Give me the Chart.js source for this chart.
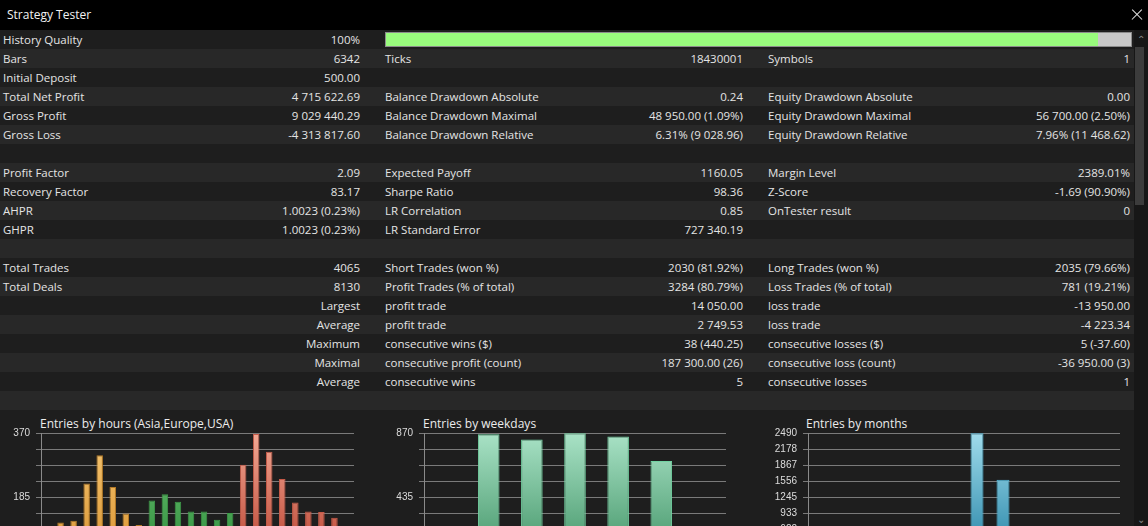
<!DOCTYPE html>
<html>
<head>
<meta charset="utf-8">
<title>Strategy Tester</title>
<script src="https://cdn.jsdelivr.net/npm/chart.js@4/dist/chart.umd.min.js"></script>
<style>
    html, body { margin: 0; padding: 0; }
    body {
        position: relative;
        width: 1148px;
        height: 526px;
        overflow: hidden;
        background: #1e1e1e;
        color: #e4e4e4;
        font-family: 'Open Sans', 'Noto Sans', sans-serif;
        font-size: 11.5px;
    }
    .titlebar {
        position: absolute; left: 0; top: 0; width: 1148px; height: 30px;
        background: #000; color: #f2f2f2; font-size: 12px; line-height: 30px;
    }
    .titlebar span { position: absolute; left: 7px; }
    .close { position: absolute; left: 1130px; top: 9px; width: 12px; height: 12px; }
    .close:before, .close:after {
        content: ''; position: absolute; left: 0; top: 5px; width: 14px; height: 1.4px;
        background: #e8e8e8;
    }
    .close:before { transform: rotate(45deg); }
    .close:after { transform: rotate(-45deg); }
    .row { position: absolute; left: 0; width: 1134px; height: 19px; line-height: 19px; white-space: nowrap; }
    .row.even { background: #1e1e1e; }
    .row.odd { background: #282828; }
    .row span { position: absolute; top: 0; }
    .l1 { left: 3px; }
    .r1 { left: 160px; width: 200px; text-align: right; }
    .l2 { left: 385px; }
    .v2 { left: 520px; width: 223px; text-align: right; }
    .l3 { left: 768px; }
    .v3 { left: 930px; width: 200px; text-align: right; }
    .quality {
        position: absolute; left: 385px; top: 32px; width: 745px; height: 13px;
        background: #c9c9c9; border: 1px solid #8c8c8c;
    }
    .quality div { width: 712px; height: 13px; background: #99fb7d; }
    .scroll { position: absolute; left: 1134px; top: 30px; width: 14px; height: 496px; background: #171717; }
    .thumb { position: absolute; left: 1135px; top: 47px; width: 9px; height: 158px; background: #3c3c3c; }
    .arrow { position: absolute; left: 1136px; width: 10px; color: #8a8a8a; font-size: 10px; line-height: 10px; text-align: center; }
    .chart-title { position: absolute; top: 416px; color: #ececec; font-size: 12px; line-height: 16px; }
    .box { position: absolute; top: 421px; height: 152px; }
</style>
</head>
<body>

<div class="titlebar"><span>Strategy Tester</span></div>
<div class="close"></div>
<div id="rows"></div>
<div class="scroll"></div>
<div class="thumb"></div>
<div class="arrow" style="top:34px">&#8963;</div>
<div class="arrow" style="top:514px">&#8964;</div>

<div class="chart-title" style="left:40px">Entries by hours (Asia,Europe,USA)</div>
<div class="chart-title" style="left:423px">Entries by weekdays</div>
<div class="chart-title" style="left:806px">Entries by months</div>

<div class="box" style="left:0; width:360px"><canvas id="hoursChart"></canvas></div>
<div class="box" style="left:380px; width:352px"><canvas id="weekdaysChart"></canvas></div>
<div class="box" style="left:760px; width:366px"><canvas id="monthsChart"></canvas></div>

<script>
// Report rows: [label, value, label, value, label, value]
const reportRows = [
    ['History Quality', '100%', '', '', '', ''],
    ['Bars', '6342', 'Ticks', '18430001', 'Symbols', '1'],
    ['Initial Deposit', '500.00', '', '', '', ''],
    ['Total Net Profit', '4 715 622.69', 'Balance Drawdown Absolute', '0.24', 'Equity Drawdown Absolute', '0.00'],
    ['Gross Profit', '9 029 440.29', 'Balance Drawdown Maximal', '48 950.00 (1.09%)', 'Equity Drawdown Maximal', '56 700.00 (2.50%)'],
    ['Gross Loss', '-4 313 817.60', 'Balance Drawdown Relative', '6.31% (9 028.96)', 'Equity Drawdown Relative', '7.96% (11 468.62)'],
    ['', '', '', '', '', ''],
    ['Profit Factor', '2.09', 'Expected Payoff', '1160.05', 'Margin Level', '2389.01%'],
    ['Recovery Factor', '83.17', 'Sharpe Ratio', '98.36', 'Z-Score', '-1.69 (90.90%)'],
    ['AHPR', '1.0023 (0.23%)', 'LR Correlation', '0.85', 'OnTester result', '0'],
    ['GHPR', '1.0023 (0.23%)', 'LR Standard Error', '727 340.19', '', ''],
    ['', '', '', '', '', ''],
    ['Total Trades', '4065', 'Short Trades (won %)', '2030 (81.92%)', 'Long Trades (won %)', '2035 (79.66%)'],
    ['Total Deals', '8130', 'Profit Trades (% of total)', '3284 (80.79%)', 'Loss Trades (% of total)', '781 (19.21%)'],
    ['', 'Largest', 'profit trade', '14 050.00', 'loss trade', '-13 950.00'],
    ['', 'Average', 'profit trade', '2 749.53', 'loss trade', '-4 223.34'],
    ['', 'Maximum', 'consecutive wins ($)', '38 (440.25)', 'consecutive losses ($)', '5 (-37.60)'],
    ['', 'Maximal', 'consecutive profit (count)', '187 300.00 (26)', 'consecutive loss (count)', '-36 950.00 (3)'],
    ['', 'Average', 'consecutive wins', '5', 'consecutive losses', '1'],
    ['', '', '', '', '', '']
];

// Entries by hours
const hourLabels = ['0', '1', '2', '3', '4', '5', '6', '7', '8', '9', '10', '11',
                    '12', '13', '14', '15', '16', '17', '18', '19', '20', '21', '22', '23'];
const hourEntries = [0, 111, 116, 224, 306, 214, 137, 104, 175, 193, 171, 143,
                     143, 119, 139, 278, 367, 316, 237, 169, 143, 142, 125, 0];
const hourSessions = ['asia', 'asia', 'asia', 'asia', 'asia', 'asia', 'asia', 'asia',
                      'europe', 'europe', 'europe', 'europe', 'europe', 'europe', 'europe',
                      'usa', 'usa', 'usa', 'usa', 'usa', 'usa', 'usa', 'usa', 'usa'];
const hourTicks = ['370', '', '', '', '185', '', '', '', '0'];

// Entries by weekdays
const weekdayLabels = ['Sun', 'Mon', 'Tue', 'Wed', 'Thu', 'Fri', 'Sat'];
const weekdayEntries = [0, 861, 826, 868, 847, 679, 0];
const weekdayTicks = ['870', '', '', '', '435', '', '', '', '0'];

// Entries by months
const monthLabels = ['Jan', 'Feb', 'Mar', 'Apr', 'May', 'Jun', 'Jul', 'Aug', 'Sep', 'Oct', 'Nov', 'Dec'];
const monthEntries = [0, 0, 0, 0, 0, 0, 2483, 1582, 0, 0, 0, 0];
const monthTicks = ['2490', '2178', '1867', '1556', '1245', '933', '622', '311', '0'];

// Build report table
const rowsEl = document.getElementById('rows');
reportRows.forEach((r, i) => {
    const row = document.createElement('div');
    row.className = 'row ' + (i % 2 ? 'odd' : 'even');
    row.style.top = (30 + i * 19) + 'px';
    const cells = [['l1', r[0]], ['r1', r[1]], ['l2', r[2]], ['v2', r[3]], ['l3', r[4]], ['v3', r[5]]];
    cells.forEach(([cls, txt]) => {
        if (!txt) return;
        const s = document.createElement('span');
        s.className = cls;
        s.textContent = txt;
        row.appendChild(s);
    });
    rowsEl.appendChild(row);
});
const q = document.createElement('div');
q.className = 'quality';
q.innerHTML = '<div></div>';
rowsEl.appendChild(q);

// Gradient helper, spans the whole chart area like the terminal does
const gradientStops = {
    asia:    ['#f8c874', '#d8922f'],
    europe:  ['#74c87a', '#2a8a38'],
    usa:     ['#f3a894', '#b8402e'],
    weekday: ['#a9e2c6', '#3f9264'],
    month:   ['#a0dcec', '#1f7fa2']
};
const borderColors = {
    asia: '#b57a26', europe: '#3d9a48', usa: '#c55a48', weekday: '#72d2a2', month: '#4cb4d6'
};

function makeGradient(chart, name) {
    const area = chart.chartArea;
    if (!area) return gradientStops[name][1];
    const g = chart.ctx.createLinearGradient(0, area.top, 0, area.bottom);
    g.addColorStop(0, gradientStops[name][0]);
    g.addColorStop(1, gradientStops[name][1]);
    return g;
}

function buildChart(id, labels, values, ticks, axisWidth, colorOf) {
    const ctx = document.getElementById(id).getContext('2d');
    const max = parseFloat(ticks[0]);
    return new Chart(ctx, {
        type: 'bar',
        data: {
            labels: labels,
            datasets: [{
                data: values,
                backgroundColor: c => makeGradient(c.chart, colorOf(c.dataIndex)),
                borderColor: c => borderColors[colorOf(c.dataIndex)],
                borderWidth: 1,
                categoryPercentage: 1,
                barPercentage: 0.5
            }]
        },
        options: {
            responsive: true,
            maintainAspectRatio: false,
            animation: false,
            devicePixelRatio: 1,
            layout: { padding: { top: 8, bottom: 6, left: 0, right: 6 } },
            plugins: { legend: { display: false }, tooltip: { enabled: false } },
            scales: {
                x: { display: false },
                y: {
                    min: 0,
                    max: max,
                    afterBuildTicks: s => {
                        s.ticks = ticks.map((t, i) => ({ value: max - i * max / 8 })).reverse();
                    },
                    afterFit: s => { s.width = axisWidth; },
                    ticks: {
                        color: '#dcdcdc',
                        padding: 6,
                        font: { family: 'Liberation Sans', size: 10 },
                        callback: (v, i, all) => ticks[all.length - 1 - i]
                    },
                    grid: { color: '#7a7a7a', lineWidth: 1, tickLength: 5 },
                    border: { display: true, color: '#8a8a8a' }
                }
            }
        }
    });
}

buildChart('hoursChart', hourLabels, hourEntries, hourTicks, 41, i => hourSessions[i]);
buildChart('weekdaysChart', weekdayLabels, weekdayEntries, weekdayTicks, 44, () => 'weekday');
buildChart('monthsChart', monthLabels, monthEntries, monthTicks, 48, () => 'month');
</script>
</body>
</html>
